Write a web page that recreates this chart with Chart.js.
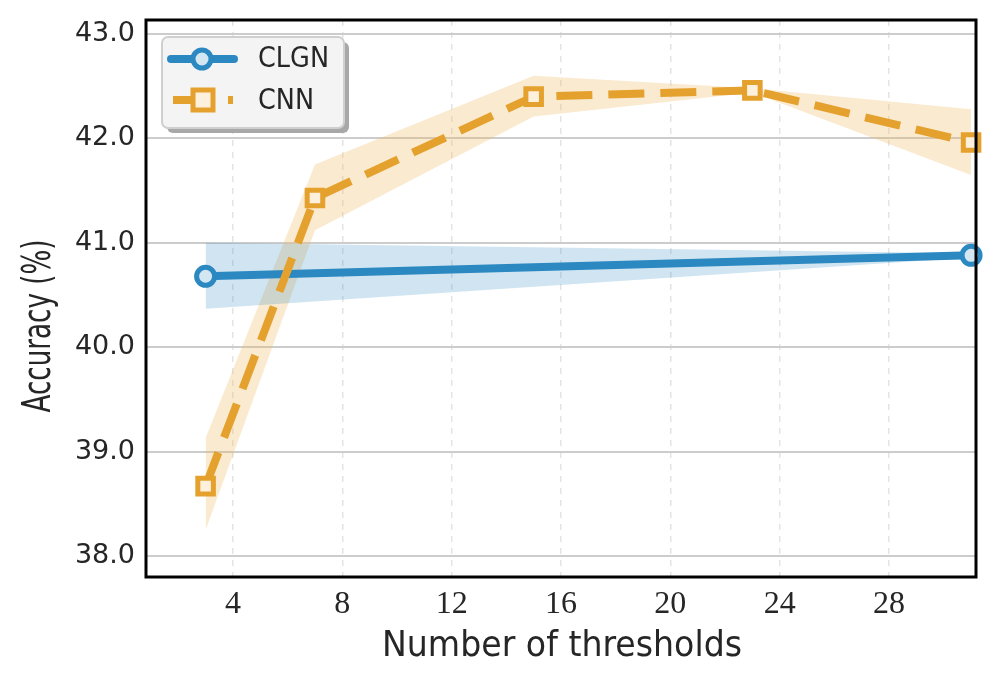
<!DOCTYPE html>
<html><head><meta charset="utf-8">
<script src="https://cdn.jsdelivr.net/npm/chart.js@4"></script>
<style>html,body{margin:0;padding:0;background:#fff}#wrap{width:997px;height:690px}</style>
</head><body><div id="wrap"><canvas id="c" width="997" height="690"></canvas></div>
<script>
const thresholds = [3, 7, 15, 23, 31];
const clgnX = [3, 31];
const clgnMean = [40.68, 40.88];
const clgnUpper = [41.00, 40.90];
const clgnLower = [40.37, 40.86];
const cnnMean = [38.67, 41.43, 42.40, 42.46, 41.96];
const cnnUpper = [39.13, 41.75, 42.60, 42.48, 42.28];
const cnnLower = [38.25, 41.12, 42.21, 42.44, 41.65];
const xTicks = [4, 8, 12, 16, 20, 24, 28];
const yTicks = [38, 39, 40, 41, 42, 43];
const xTitle = 'Number of thresholds';
const yTitle = 'Accuracy (%)';
const legendLabels = ['CLGN', 'CNN'];

const blue = '#2b88c1', orange = '#e5a12d';
const pts = (xs, ys) => xs.map((x, i) => ({x, y: ys[i]}));

function condensedText(ctx, text, cx, cy, size, targetW, rot) {
  ctx.save();
  ctx.font = size + 'px "DejaVu Sans"';
  const w = ctx.measureText(text).width;
  ctx.translate(cx, cy);
  if (rot) ctx.rotate(-Math.PI / 2);
  ctx.scale(targetW / w, 1);
  ctx.fillStyle = '#262626';
  ctx.textAlign = 'center'; ctx.textBaseline = 'middle';
  ctx.fillText(text, 0, 0);
  ctx.restore();
}

const framePlugin = {
  id: 'frame',
  afterDraw(chart) {
    const {ctx, chartArea: a} = chart;
    ctx.save();
    ctx.strokeStyle = '#000'; ctx.lineWidth = 3;
    ctx.strokeRect(a.left, a.top, a.right - a.left, a.bottom - a.top);
    // axis titles
    condensedText(ctx, xTitle, 562, 647, 36, 360, false);
    condensedText(ctx, yTitle, 40, 326, 39, 173, true);
    // legend
    const bx = 162, by = 37, bw = 182, bh = 91, r = 6;
    const rr = (x, y, w, h) => { ctx.beginPath(); ctx.roundRect(x, y, w, h, r); };
    ctx.fillStyle = '#a8a8a8'; rr(bx + 5, by + 5, bw, bh); ctx.fill();
    ctx.fillStyle = '#f4f4f4'; rr(bx, by, bw, bh); ctx.fill();
    ctx.strokeStyle = '#cfcfcf'; ctx.lineWidth = 2; rr(bx, by, bw, bh); ctx.stroke();
    // CLGN
    let y = 59;
    ctx.lineCap = 'round'; ctx.strokeStyle = blue; ctx.lineWidth = 8;
    ctx.beginPath(); ctx.moveTo(171, y); ctx.lineTo(234, y); ctx.stroke();
    ctx.lineWidth = 5; ctx.fillStyle = '#d3e7f3';
    ctx.beginPath(); ctx.arc(202, y, 9, 0, Math.PI * 2); ctx.fill(); ctx.stroke();
    // CNN
    y = 100;
    ctx.lineCap = 'butt'; ctx.strokeStyle = orange; ctx.lineWidth = 8;
    ctx.beginPath(); ctx.moveTo(173, y); ctx.lineTo(205, y); ctx.stroke();
    ctx.beginPath(); ctx.moveTo(228, y); ctx.lineTo(233, y); ctx.stroke();
    ctx.lineWidth = 5; ctx.fillStyle = '#fdf1de';
    ctx.fillRect(193, y - 10, 20, 20); ctx.strokeRect(193, y - 10, 20, 20);
    ctx.restore();
    condensedText(ctx, legendLabels[0], 293.5, 59, 29, 71, false);
    condensedText(ctx, legendLabels[1], 286, 101, 29, 56, false);
  }
};

new Chart(document.getElementById('c'), {
  type: 'line',
  data: {
    datasets: [
      {label: 'CLGN', data: pts(clgnX, clgnMean), borderColor: blue, borderWidth: 8,
       pointStyle: 'circle', pointRadius: 9, pointBorderWidth: 5, pointBackgroundColor: '#d3e7f3',
       pointBorderColor: blue, fill: false, order: 2, clip: false},
      {label: 'CNN', data: pts(thresholds, cnnMean), borderColor: orange, borderWidth: 8,
       borderDash: [36, 16], pointStyle: 'rect', pointRadius: 11, pointBorderWidth: 5,
       pointBackgroundColor: '#fdf1de', pointBorderColor: orange, fill: false, order: 1, clip: false},
      {label: 'clgnU', data: pts(clgnX, clgnUpper), borderWidth: 0, pointRadius: 0,
       fill: '+1', backgroundColor: 'rgba(43,136,193,0.22)', order: 10},
      {label: 'clgnL', data: pts(clgnX, clgnLower), borderWidth: 0, pointRadius: 0, fill: false, order: 10},
      {label: 'cnnU', data: pts(thresholds, cnnUpper), borderWidth: 0, pointRadius: 0,
       fill: '+1', backgroundColor: 'rgba(240,185,100,0.30)', order: 10},
      {label: 'cnnL', data: pts(thresholds, cnnLower), borderWidth: 0, pointRadius: 0, fill: false, order: 10}
    ]
  },
  options: {
    responsive: false, animation: false,
    layout: {padding: {top: 20, right: 21, left: 0, bottom: 0}},
    plugins: {legend: {display: false}, tooltip: {enabled: false}},
    elements: {line: {tension: 0}},
    scales: {
      x: {type: 'linear', min: 0.82, max: 31.18,
        afterBuildTicks: s => { s.ticks = xTicks.map(v => ({value: v})); },
        afterFit: s => { s.height = 113; s.paddingLeft = 0; s.paddingRight = 0; },
        grid: {color: '#e4e4e4', lineWidth: 1.5, drawTicks: false},
        border: {display: false, dash: [6, 6]},
        ticks: {color: '#262626', font: {family: '"Liberation Serif"', size: 32}, padding: 8, maxRotation: 0},
        title: {display: false}
      },
      y: {type: 'linear', min: 37.8, max: 43.134,
        afterBuildTicks: s => { s.ticks = yTicks.map(v => ({value: v})); },
        afterFit: s => { s.width = 146; s.paddingTop = 0; s.paddingBottom = 0; },
        grid: {color: '#cccccc', lineWidth: 2, drawTicks: false},
        border: {display: false},
        ticks: {color: '#262626', font: {family: '"DejaVu Sans"', size: 27}, padding: 11,
          callback: v => v.toFixed(1)},
        title: {display: false}
      }
    }
  },
  plugins: [framePlugin]
});
</script></body></html>
